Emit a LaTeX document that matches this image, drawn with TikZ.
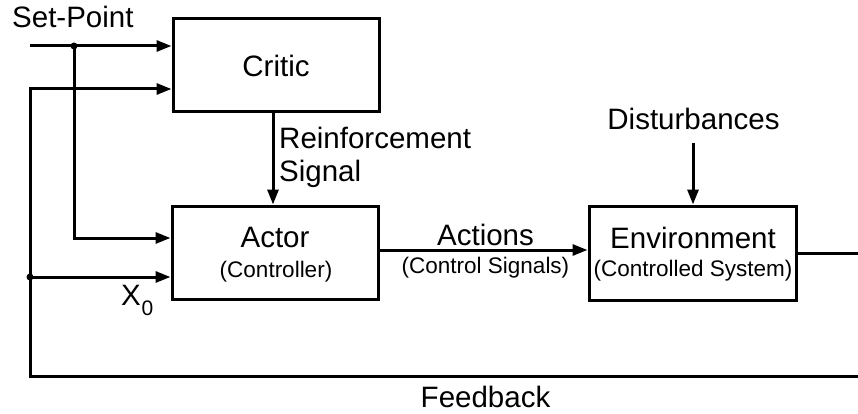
\documentclass[tikz,border=0pt]{standalone}
\usepackage{fontspec}
\setmainfont{Liberation Sans}
\usetikzlibrary{arrows.meta}
\begin{document}
\begin{tikzpicture}[x=1pt,y=-1pt,
  blk/.style={draw, line width=3pt, inner sep=0pt},
  wire/.style={line width=3pt, line join=miter},
  arr/.style={wire, -{Triangle[length=15pt,width=11pt]}},
  big/.style={font=\fontsize{29.5}{33}\selectfont, inner sep=0pt, anchor=base},
  small/.style={font=\fontsize{22.5}{26}\selectfont, inner sep=0pt, anchor=base},
  jdot/.style={circle, fill, inner sep=0pt, minimum size=7pt}]
\useasboundingbox (0,0) rectangle (858,414);

% boxes
\node[blk, minimum width=206pt, minimum height=93pt] (critic) at (276,65.5) {};
\node[blk, minimum width=206pt, minimum height=93pt] (actor) at (275,252.5) {};
\node[blk, minimum width=207pt, minimum height=94pt] (env) at (692.5,253) {};

% texts
\node[big, anchor=base west] (tsp) at (12,28) {Set-Point};
\node[big] (tcritic) at (276,77) {Critic};
\node[big] (tactor) at (275,247) {Actor};
\node[small] (tctrl) at (276,277) {(Controller)};
\node[big] (tenv) at (693,248) {Environment};
\node[small] (tcsys) at (693,276) {(Controlled System)};
\node[big] (tact) at (485.5,245) {Actions};
\node[small] (tcs) at (485.5,273) {(Control Signals)};
\node[big] (tdist) at (693.5,130) {Disturbances};
\node[big, anchor=base west] (treinf) at (279,149) {Reinforcement};
\node[big, anchor=base west] (tsig) at (279,182) {Signal};
\node[big, anchor=base west] (tx) at (121,305) {X};
\node[font=\fontsize{21}{21}\selectfont, inner sep=0pt, anchor=base west] (tx0) at (141.5,315) {0};
\node[big] (tfb) at (485.5,407) {Feedback};

% coordinates
\coordinate (sp) at (30,46);
\coordinate (j1) at (74,46);
\coordinate (aY) at (0,238);
\coordinate (j2) at (30,277);
\coordinate (fbY) at (0,89);
\coordinate (rs) at (273,0);
\coordinate (actY) at (0,250);
\coordinate (dist) at (693,143);
\coordinate (r1) at (861,253);
\coordinate (r2) at (861,376);
\coordinate (l1) at (30,376);
\coordinate (l2) at (30,89);

% connectors
\draw[arr] (sp) -- (sp -| critic.west);
\draw[arr] (j1) -- (j1 |- aY) -- (aY -| actor.west);
\draw[arr] (rs |- critic.south) -- (rs |- actor.north);
\draw[arr] (actor.east |- actY) -- (actY -| env.west);
\draw[arr] (dist) -- (dist |- env.north);
\draw[arr] (env.east) -- (r1) -- (r2) -- (l1) -- (l2) -- (l2 -| critic.west);
\draw[arr] (j2) -- (j2 -| actor.west);
\node[jdot] at (j1) {};
\node[jdot] at (j2) {};
\end{tikzpicture}
\end{document}
